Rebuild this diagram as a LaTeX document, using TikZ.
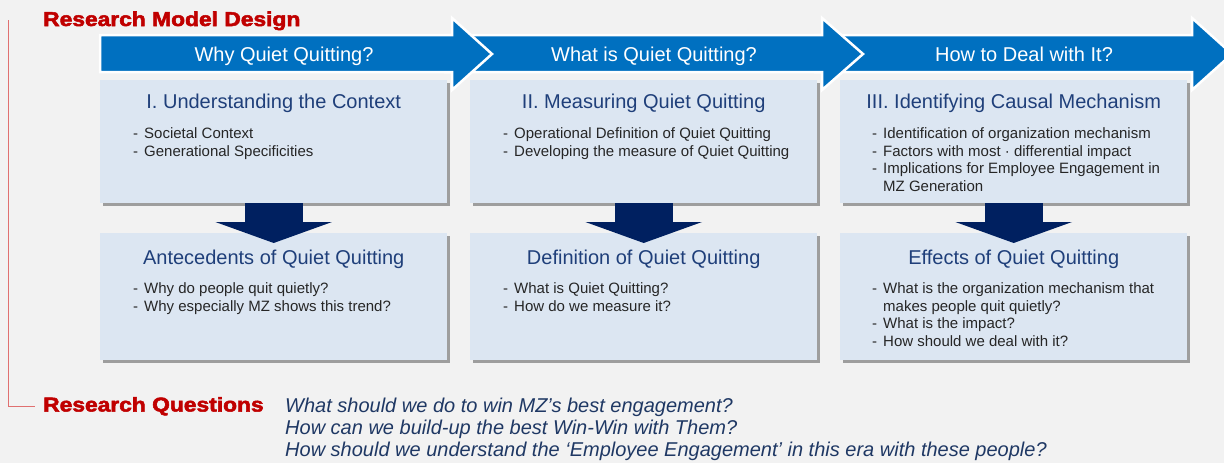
\documentclass[tikz,border=0pt]{standalone}
\usepackage{fontspec}
\setmainfont{Liberation Sans}
\usetikzlibrary{calc,shadows,arrows.meta,positioning}

\definecolor{bgcol}{HTML}{F2F2F2}
\definecolor{arrblue}{HTML}{0070C0}
\definecolor{boxfill}{HTML}{DCE6F2}
\definecolor{headnavy}{HTML}{1F3F7A}
\definecolor{darknavy}{HTML}{002060}
\definecolor{redtxt}{HTML}{C00000}
\definecolor{bracketred}{HTML}{E07070}
\definecolor{bultext}{HTML}{262626}
\definecolor{qnavy}{HTML}{1F3864}

\tikzset{
  ubox/.style={fill=boxfill, minimum width=347pt, minimum height=123pt, anchor=north west, inner sep=0pt,
    drop shadow={shadow xshift=2.5pt, shadow yshift=-2.5pt, fill=black!60, opacity=.6}},
  lbox/.style={ubox, minimum height=127pt},
  bigarr/.style={fill=arrblue, draw=white, line width=2.5pt, line join=miter},
  albl/.style={anchor=base, text=white, font=\fontsize{20}{24}\selectfont, inner sep=0pt},
  headtxt/.style={anchor=base, text=headnavy, font=\fontsize{20}{24}\selectfont, inner sep=0pt},
  bul/.style={anchor=base west, text=bultext, font=\fontsize{15}{17.5}\selectfont, inner sep=0pt},
  darr/.style={draw=darknavy, line width=58pt, -{Triangle[length=21pt,width=116pt]}},
  redttl/.style={anchor=base west, text=redtxt, font=\fontsize{20}{24}\selectfont\bfseries\addfontfeature{FakeBold=2.5}, inner sep=0pt},
  qtxt/.style={anchor=base west, text=qnavy, font=\fontsize{20}{22}\selectfont\itshape, inner sep=0pt}
}

\newcommand{\dashlist}[1]{\begin{tabular}[t]{@{}l@{\hspace{6pt}}l@{}}#1\end{tabular}}

\begin{document}
\begin{tikzpicture}[x=1pt,y=-1pt]
  \fill[bgcol] (0,0) rectangle (1224,463);
  \clip (0,0) rectangle (1224,463);
  \useasboundingbox (0,0) rectangle (1224,463);

  % bracket and titles
  \node[redttl] (rmd) at (43,26) {\scalebox{1.14}[1]{Research Model Design}};
  \node[redttl] (rq) at (43,411.5) {\scalebox{1.14}[1]{Research Questions}};
  \coordinate (brtop) at (8,20);
  \draw[bracketred, line width=0.8pt] (brtop) |- ([xshift=-8pt]rq.west);

  % big arrows, last one first
  \foreach \xs/\xb/\xt in {815/1192/1232, 445/822/863, 100/452/492}
    \draw[bigarr] (\xs,35) -- (\xb,35) -- (\xb,18) -- (\xt,54) -- (\xb,90) -- (\xb,72) -- (\xs,72) -- cycle;
  \node[albl] (q1) at (284,61) {Why Quiet Quitting?};
  \node[albl] (q2) at (654,61) {What is Quiet Quitting?};
  \node[albl] (q3) at (1024,61) {How to Deal with It?};

  % upper boxes
  \node[ubox] (u1) at (100,80) {};
  \node[ubox] (u2) at (470,80) {};
  \node[ubox] (u3) at (840,80) {};
  \node[headtxt] (h1) at ($(u1.north)+(0,28)$) {I. Understanding the Context};
  \node[headtxt] (h2) at ($(u2.north)+(0,28)$) {II. Measuring Quiet Quitting};
  \node[headtxt] (h3) at ($(u3.north)+(0,28)$) {III. Identifying Causal Mechanism};
  \node[bul] (b1) at (133,138.5) {\dashlist{-&Societal Context\\-&Generational Specificities}};
  \node[bul] (b2) at (503,138.5) {\dashlist{-&Operational Definition of Quiet Quitting\\-&Developing the measure of Quiet Quitting}};
  \node[bul] (b3) at (872,138.5) {\dashlist{-&Identification of organization mechanism\\-&Factors with most · differential impact\\-&Implications for Employee Engagement in\\&MZ Generation}};

  % lower boxes
  \node[lbox] (l1) at (100,233) {};
  \node[lbox] (l2) at (470,233) {};
  \node[lbox] (l3) at (840,233) {};

  % down arrows
  \draw[darr] (u1.south) -- ([yshift=-10pt]l1.north);
  \draw[darr] (u2.south) -- ([yshift=-10pt]l2.north);
  \draw[darr] (u3.south) -- ([yshift=-10pt]l3.north);

  \node[headtxt] (g1) at ($(l1.north)+(0,31)$) {Antecedents of Quiet Quitting};
  \node[headtxt] (g2) at ($(l2.north)+(0,31)$) {Definition of Quiet Quitting};
  \node[headtxt] (g3) at ($(l3.north)+(0,31)$) {Effects of Quiet Quitting};
  \node[bul] (c1) at (133,293.5) {\dashlist{-&Why do people quit quietly?\\-&Why especially MZ shows this trend?}};
  \node[bul] (c2) at (503,293.5) {\dashlist{-&What is Quiet Quitting?\\-&How do we measure it?}};
  \node[bul] (c3) at (872,293.5) {\dashlist{-&What is the organization mechanism that\\&makes people quit quietly?\\-&What is the impact?\\-&How should we deal with it?}};

  % research questions
  \node[qtxt] (qs) at (285,412) {\begin{tabular}[t]{@{}l@{}}What should we do to win MZ’s best engagement?\\How can we build-up the best Win-Win with Them?\\How should we understand the ‘Employee Engagement’ in this era with these people?\end{tabular}};
\end{tikzpicture}
\end{document}
